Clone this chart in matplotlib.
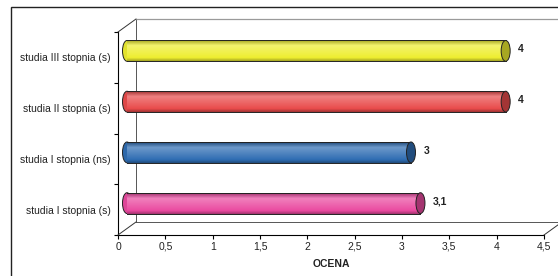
import numpy as np
import matplotlib.pyplot as plt
import matplotlib.colors as mcolors
from matplotlib.patches import Rectangle, Ellipse
from matplotlib.transforms import ScaledTranslation

plt.rcParams['font.family'] = ['Liberation Sans', 'DejaVu Sans']

# ── dane ──────────────────────────────────────────────────────────────────────
kategorie = ['studia I stopnia (s)', 'studia I stopnia (ns)',
             'studia II stopnia (s)', 'studia III stopnia (s)']
oceny = [3.1, 3.0, 4.0, 4.0]
etykiety = ['3,1', '3', '4', '4']
kolory = ['#ea4aa0', '#2f6db3', '#e94b4b', '#eeee30']
xticks = [0, 0.5, 1, 1.5, 2, 2.5, 3, 3.5, 4, 4.5]

W, H, DPI = 558, 276, 100
fig = plt.figure(figsize=(W / DPI, H / DPI), dpi=DPI)
ax = fig.add_axes([118 / W, (H - 235) / H, 426 / W, 203 / H])
ax.set_xlim(0, 4.5)
ax.set_ylim(-0.5, 3.5)
for s in ['top', 'right']:
    ax.spines[s].set_visible(False)
for s in ['left', 'bottom']:
    ax.spines[s].set_linewidth(0.8)

# przesunięcie głębi (3D) w pikselach
DX, DY = 18, 13
glebia = ax.transData + ScaledTranslation(DX / DPI, DY / DPI, fig.dpi_scale_trans)
srodek = ax.transData + ScaledTranslation(DX / 2 / DPI, DY / 2 / DPI, fig.dpi_scale_trans)

# ściana tylna i podłoga
kw = dict(color='#555555', lw=0.7, clip_on=False)
ax.plot([0, 0], [-0.5, 3.5], transform=glebia, **kw)
ax.plot([0, 4.5], [3.5, 3.5], transform=glebia, color='#9a9a9a', lw=0.9, clip_on=False)
ax.plot([0, 4.5], [-0.5, -0.5], transform=glebia, **kw)
for x0, y0 in [(0, -0.5), (4.5, -0.5), (0, 3.5)]:
    p0 = ax.transData.transform((x0, y0))
    p1 = glebia.transform((x0, y0))
    fig.add_artist(plt.Line2D([p0[0] / W, p1[0] / W], [p0[1] / H, p1[1] / H],
                              color='#333333', lw=0.7))

# walce
h = 0.41
ew = 9 / (426 / 4.5)
for i, (v, c) in enumerate(zip(oceny, kolory)):
    base = np.array(mcolors.to_rgb(c))
    dark = base * 0.7
    light = base + (1 - base) * 0.3
    tt = np.linspace(0, 1, 40)
    grad = []
    for t in tt:
        if t < 0.15:
            col = dark + (base - dark) * (t / 0.15)
        elif t < 0.75:
            col = base + (light - base) * ((t - 0.15) / 0.6)
        else:
            col = light + (dark - light) * ((t - 0.75) / 0.25)
        grad.append(np.clip(col, 0, 1))
    grad = np.array(grad)[:, None, :]

    lewy = Ellipse((0, i), ew, h, transform=srodek, facecolor=base * 0.95,
                   edgecolor='#222222', lw=0.7, zorder=3)
    ax.add_patch(lewy)
    body = Rectangle((0, i - h / 2), v, h, transform=srodek, facecolor='none',
                     edgecolor='none', zorder=4)
    ax.add_patch(body)
    im = ax.imshow(grad, extent=(0, v, i - h / 2, i + h / 2), origin='lower',
                   aspect='auto', transform=srodek, zorder=4, interpolation='bilinear')
    im.set_clip_path(body)
    ax.plot([0, v], [i - h / 2, i - h / 2], transform=srodek, color='#222222', lw=0.7, zorder=5)
    ax.plot([0, v], [i + h / 2, i + h / 2], transform=srodek, color='#222222', lw=0.7, zorder=5)
    prawy = Ellipse((v, i), ew, h, transform=srodek, facecolor=base * 0.7,
                    edgecolor='#222222', lw=0.7, zorder=6)
    ax.add_patch(prawy)
    ax.annotate(etykiety[i], (v, i), xycoords=srodek, xytext=(9, 1),
                textcoords='offset points', ha='left', va='center',
                fontsize=7.5, fontweight='bold', color='#222222')

ax.set_xlim(0, 4.5)
ax.set_ylim(-0.5, 3.5)

ax.set_xticks(xticks)
ax.set_xticklabels([f'{t:g}'.replace('.', ',') for t in xticks], fontsize=7.5, color='#222222')
ax.set_yticks(np.arange(-0.5, 3.6, 1))
ax.set_yticklabels([])
ax.set_yticks(range(len(kategorie)), minor=True)
ax.set_yticklabels(kategorie, minor=True, fontsize=7.5, color='#222222')
ax.tick_params(axis='y', which='minor', length=0, pad=5)
ax.tick_params(axis='y', which='major', length=3, width=0.8)
ax.tick_params(axis='x', length=3, width=0.8, pad=2)
ax.set_xlabel('OCENA', fontsize=7.5, fontweight='bold', labelpad=5, color='#222222')

# ramka zewnętrzna
fig.add_artist(Rectangle((11 / W, -0.1), 1.1, 1 - 7 / H + 0.1, transform=fig.transFigure,
                         facecolor='none', edgecolor='#222222', lw=1.0))

fig.savefig('out.png', dpi=DPI)
